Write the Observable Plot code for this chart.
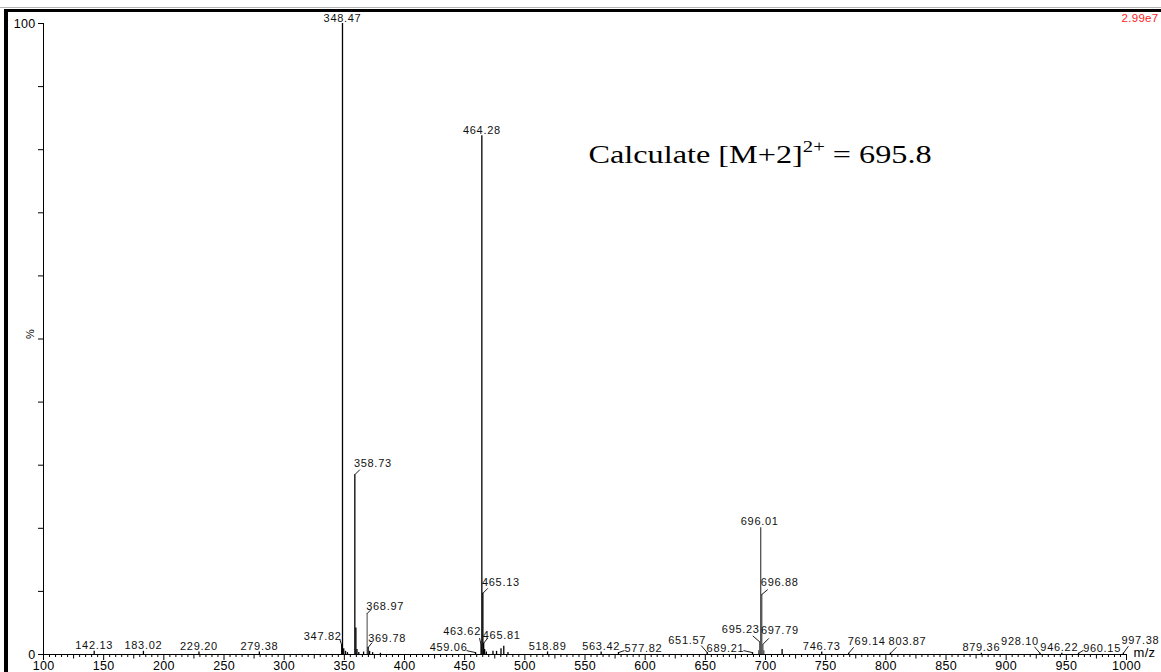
<!DOCTYPE html>
<html>
<head>
<meta charset="utf-8">
<script src="https://cdn.jsdelivr.net/npm/d3@7"></script>
<script src="https://cdn.jsdelivr.net/npm/@observablehq/plot@0.6"></script>
<style>
  html, body { margin: 0; padding: 0; background: #fff; }
  #wrap { position: relative; width: 1161px; height: 672px; overflow: hidden; background: #fff; }
  #chart { position: absolute; left: 0; top: 0; }
  .edge { position: absolute; background: #000; }
</style>
</head>
<body>
<div id="wrap">
  <div id="chart"></div>
  <div class="edge" style="left:0;top:7px;width:1161px;height:1px;background:#b4b4b4"></div>
  <div class="edge" style="left:4px;top:9px;right:0;height:3px"></div>
  <div class="edge" style="left:4px;top:9px;width:4px;bottom:0"></div>
</div>
<script>
// Mass spectrum: m/z of each centroided peak and its relative intensity (%)
const peakMz = [
  142.13, 183.02, 229.20, 279.38,
  347.82, 348.47, 349.5, 351.0, 352.6,
  358.73, 359.6, 360.5, 362.0, 366.0, 368.97, 369.78, 371.0, 373.5, 380.0,
  459.06, 463.62, 464.28, 465.13, 465.81, 466.6, 468.0, 473.5, 476.5, 480.2, 482.5, 486.0,
  518.89, 563.42, 577.82, 651.57, 689.21,
  694.4, 695.23, 696.01, 696.88, 697.79, 698.6, 713.8,
  746.73, 769.14, 803.87, 879.36, 928.10, 946.22, 960.15, 997.38
];
const peakIntensity = [
  0.5, 0.5, 0.4, 0.4,
  1.5, 100, 0.9, 0.5, 0.3,
  28.5, 4.2, 0.8, 0.3, 0.4, 6.5, 1.1, 0.5, 0.3, 0.2,
  0.3, 1.5, 82.2, 9.7, 1.8, 0.8, 0.4, 0.5, 0.5, 0.9, 1.3, 0.3,
  0.4, 0.4, 0.3, 0.3, 0.3,
  0.6, 2.0, 20.1, 9.5, 1.6, 0.6, 0.8,
  0.4, 0.2, 0.2, 0.2, 0.2, 0.2, 0.2, 0.2
];

// Peaks annotated with their m/z
const labelledPeaks = [
  "142.13", "183.02", "229.20", "279.38", "347.82", "348.47", "358.73", "368.97", "369.78",
  "459.06", "463.62", "464.28", "465.13", "465.81", "518.89", "563.42", "577.82", "651.57",
  "689.21", "695.23", "696.01", "696.88", "697.79", "746.73", "769.14", "803.87", "879.36",
  "928.10", "946.22", "960.15", "997.38"
];

// Axis ticks and text
const xTicks = d3.range(100, 1001, 50);
const xMinorTicks = d3.range(100, 1001, 5).filter(v => v % 50 !== 0);
const yTicks = d3.range(0, 101, 10);
const yTickLabels = [0, 100];
const xTitle = "m/z";
const yTitle = "%";
const fullScale = "2.99e7";
const noteParts = ["Calculate [M+2]", "2+", " = 695.8"];

// Label placement: offsets (px) of the label centre from the peak top,
// plus an optional leader line [x1, y1, x2, y2] in px relative to the peak top.
const labelPlacement = {
  "347.82": {dx: -19, dy: -9, leader: [-2, -6, 0, 0]},
  "358.73": {dx: 18, dy: -11, leader: [0, 0, 5, -5]},
  "368.97": {dx: 18, dy: -7, leader: [0, 0, 4, -4]},
  "369.78": {dx: 19, dy: -9.5, leader: [0, 0, 4, -5]},
  "459.06": {dx: -27, dy: -5, leader: [-9, -2, 0, 0]},
  "463.62": {dx: -19, dy: -14, leader: [-1.5, -7, 0, 0]},
  "465.13": {dx: 18, dy: -11, leader: [0, 0, 5, -5]},
  "465.81": {dx: 18, dy: -8, leader: [0, 0, 4, -5]},
  "577.82": {dx: 25, dy: -4.5, leader: [0, 0, 6, -2]},
  "651.57": {dx: -20, dy: -12.5, leader: [-6, -7, 0, 0]},
  "689.21": {dx: -27, dy: -4.5, leader: [-9, -2, 0, 0]},
  "695.23": {dx: -19, dy: -12, leader: [-7, -6, 0, 0]},
  "696.01": {dx: -1, dy: -6},
  "696.88": {dx: 18, dy: -12.5, leader: [0, 0, 6, -5]},
  "697.79": {dx: 17, dy: -13.5, leader: [0, 0, 6, -6]},
  "769.14": {dx: 18, dy: -11.5, leader: [0, 0, 5, -6]},
  "803.87": {dx: 17, dy: -11.5, leader: [0, 0, 6, -6]},
  "928.10": {dx: -20, dy: -12, leader: [-5.5, -6.5, 0, 0]},
  "946.22": {dx: -2.5, dy: -5.5},
  "960.15": {dx: 23.5, dy: -5, leader: [0, 0, 5, -3]},
  "997.38": {dx: 17, dy: -13, leader: [0, 0, 5, -7]}
};

const W = 1161, H = 672;
const margin = {top: 23, right: 35, bottom: 18, left: 43};
const xDomain = [100, 1000], yDomain = [0, 100];
const mzPerPx = (xDomain[1] - xDomain[0]) / (W - margin.left - margin.right);
const pctPerPx = (yDomain[1] - yDomain[0]) / (H - margin.top - margin.bottom);

const peaks = peakMz.map((mz, i) => ({mz, h: peakIntensity[i]}));
const peakAt = mz => peaks.find(p => p.mz === mz);

const labelRows = labelledPeaks.map(text => {
  const p = peakAt(+text);
  const L = labelPlacement[text] || {};
  const dx = L.dx ?? 0, dy = L.dy ?? -5.5;
  return {text, x: p.mz + dx * mzPerPx, y: p.h - dy * pctPerPx};
});

const leaderRows = labelledPeaks
  .filter(t => labelPlacement[t] && labelPlacement[t].leader)
  .map(t => {
    const p = peakAt(+t);
    const [ax, ay, bx, by] = labelPlacement[t].leader;
    return {
      x1: p.mz + ax * mzPerPx, y1: p.h - ay * pctPerPx,
      x2: p.mz + bx * mzPerPx, y2: p.h - by * pctPerPx
    };
  });

// isotope cluster of the doubly charged ion and the 368.97 line are drawn in grey
const peakColor = d => (d.mz >= 690 && d.mz <= 700) ? "#505050"
  : (d.mz > 368.5 && d.mz < 369.5) ? "#707070" : "#000";

const chart = Plot.plot({
  width: W,
  height: H,
  marginTop: margin.top,
  marginRight: margin.right,
  marginBottom: margin.bottom,
  marginLeft: margin.left,
  style: {
    fontFamily: "'Liberation Sans', Arial, sans-serif",
    fontSize: "12.5px",
    letterSpacing: "0.3px",
    color: "#000",
    background: "transparent",
    overflow: "visible"
  },
  x: {
    type: "linear",
    domain: xDomain,
    ticks: xTicks,
    tickSize: 6,
    tickPadding: 1,
    tickFormat: d => String(d),
    label: null
  },
  y: {
    domain: yDomain,
    ticks: yTicks,
    tickSize: 5,
    tickPadding: 3,
    tickFormat: d => yTickLabels.includes(d) ? String(d) : "",
    label: null
  },
  marks: [
    // minor x ticks below the baseline
    Plot.ruleX(xMinorTicks, {
      x: d => d, y1: 0,
      y2: d => -(d % 25 === 0 ? 4.5 : 3) * pctPerPx,
      stroke: "#000", strokeWidth: 1
    }),
    // axis lines
    Plot.ruleX([xDomain[0]], {stroke: "#000", strokeWidth: 1}),
    Plot.ruleY([0], {stroke: "#000", strokeWidth: 1}),
    // spectrum sticks
    Plot.ruleX(peaks, {x: "mz", y1: 0, y2: "h", stroke: peakColor, strokeWidth: 1.3}),
    // leader lines from peak tops to labels
    Plot.link(leaderRows, {x1: "x1", y1: "y1", x2: "x2", y2: "y2", stroke: "#000", strokeWidth: 0.9}),
    // peak labels
    Plot.text(labelRows, {
      x: "x", y: "y", text: "text",
      fontSize: 11, fill: "#111"
    }),
    // axis titles
    Plot.text([yTitle], {
      frameAnchor: "left", dx: -13, rotate: -90,
      fontSize: 11, fill: "#000"
    }),
    Plot.text([xTitle], {
      frameAnchor: "bottom-right", dx: 7, dy: -2,
      textAnchor: "start", lineAnchor: "middle",
      fontSize: 13, fill: "#000"
    }),
    // full-scale intensity
    Plot.text([fullScale], {
      frameAnchor: "top-right", dx: 32, dy: -5.5,
      textAnchor: "end", lineAnchor: "middle",
      fontSize: 11.5, fill: "#ff1a1a"
    }),
    // calculated mass note
    Plot.text([noteParts.join("")], {
      frameAnchor: "top-left", dx: 545, dy: 131,
      textAnchor: "start", lineAnchor: "middle",
      fontFamily: "'Liberation Serif', 'Times New Roman', serif",
      fontSize: 25, fill: "#000"
    })
  ]
});

document.getElementById("chart").append(chart);

const texts = Array.from(chart.querySelectorAll("text"));

// slightly wider spacing for the peak annotations
texts.filter(t => labelledPeaks.includes(t.textContent))
  .forEach(t => t.style.letterSpacing = "0.7px");

// Rebuild the note with a raised charge superscript and widen it
const svgNS = "http://www.w3.org/2000/svg";
const note = texts.find(t => t.textContent === noteParts.join(""));
if (note) {
  note.style.letterSpacing = "0px";
  while (note.firstChild) note.removeChild(note.firstChild);
  const main = document.createElementNS(svgNS, "tspan");
  main.textContent = noteParts[0];
  const sup = document.createElementNS(svgNS, "tspan");
  sup.textContent = noteParts[1];
  sup.setAttribute("font-size", "16");
  sup.setAttribute("dy", "-11");
  const tail = document.createElementNS(svgNS, "tspan");
  tail.textContent = noteParts[2];
  tail.setAttribute("dy", "11");
  note.append(main, sup, tail);
  const natural = note.getComputedTextLength();
  note.setAttribute("textLength", (natural * 1.29).toFixed(1));
  note.setAttribute("lengthAdjust", "spacingAndGlyphs");
}
</script>
</body>
</html>
